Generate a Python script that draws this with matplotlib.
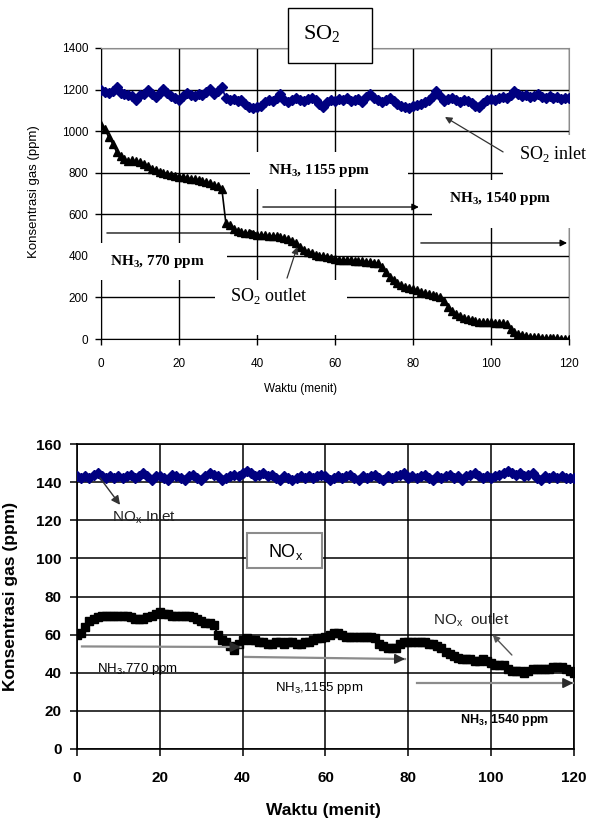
import matplotlib
matplotlib.use('Agg')
import matplotlib.pyplot as plt
from matplotlib.patches import Rectangle

# time axis, one reading per minute
minutes = list(range(0, 121))

so2_inlet = [1200, 1190, 1185, 1195, 1210, 1185, 1180, 1175, 1170, 1150,
             1175, 1180, 1200, 1180, 1165, 1185, 1205, 1185, 1170, 1160,
             1150, 1170, 1185, 1175, 1170, 1180, 1175, 1190, 1205, 1180,
             1195, 1210, 1160, 1150, 1155, 1145, 1150, 1130, 1115, 1110,
             1115, 1120, 1140, 1150, 1145, 1160, 1180, 1150, 1140, 1150,
             1160, 1150, 1145, 1155, 1160, 1150, 1130, 1115, 1140, 1150,
             1145, 1155, 1150, 1160, 1145, 1150, 1155, 1140, 1165, 1180,
             1160, 1150, 1140, 1150, 1160, 1145, 1130, 1120, 1115, 1110,
             1120, 1125, 1130, 1140, 1150, 1170, 1195, 1170, 1145, 1155,
             1160, 1150, 1140, 1150, 1145, 1135, 1120, 1115, 1135, 1150,
             1155, 1150, 1160, 1165, 1160, 1175, 1195, 1180, 1170, 1175,
             1165, 1170, 1180, 1165, 1160, 1170, 1160, 1165, 1155, 1160,
             1160]

so2_outlet = [1030, 1010, 970, 940, 900, 880, 865, 855, 860, 855,
              850, 840, 830, 820, 815, 805, 800, 795, 790, 785,
              780, 780, 775, 770, 770, 765, 760, 755, 750, 740,
              735, 720, 560, 550, 530, 520, 515, 510, 510, 505,
              500, 500, 500, 495, 495, 495, 490, 485, 480, 470,
              460, 445, 430, 420, 415, 405, 400, 400, 395, 390,
              385, 380, 380, 380, 378, 376, 375, 374, 372, 370,
              368, 365, 345, 320, 300, 285, 270, 260, 250, 245,
              240, 235, 228, 220, 215, 210, 205, 200, 185, 155,
              135, 120, 110, 100, 95, 90, 85, 82, 80, 80,
              80, 78, 78, 76, 72, 50, 35, 25, 20, 15,
              12, 10, 8, 6, 5, 5, 4, 3, 2, 1,
              0]

nox_inlet = [143, 142, 143, 142, 144, 145, 143, 142, 143, 142,
             143, 142, 143, 144, 142, 143, 145, 143, 141, 143,
             143, 142, 141, 144, 143, 142, 141, 143, 144, 142,
             141, 143, 145, 144, 143, 141, 142, 143, 144, 143,
             145, 146, 145, 143, 144, 145, 143, 144, 142, 141,
             143, 142, 141, 142, 143, 142, 143, 142, 143, 144,
             143, 141, 142, 143, 142, 143, 144, 142, 141, 143,
             142, 143, 144, 142, 141, 143, 142, 143, 144, 145,
             142, 143, 142, 143, 144, 142, 141, 143, 142, 143,
             144, 142, 143, 141, 143, 144, 145, 143, 142, 143,
             142, 143, 144, 145, 146, 145, 144, 145, 143, 144,
             145, 142, 141, 143, 142, 143, 142, 143, 142, 142,
             142]

nox_outlet = [60, 61, 64, 67, 68, 69, 70, 70, 70, 70,
              70, 70, 70, 69, 68, 68, 68, 69, 70, 71,
              72, 71, 71, 70, 70, 70, 70, 70, 69, 68,
              67, 66, 66, 65, 60, 57, 56, 54, 52, 55,
              57, 58, 57, 57, 56, 56, 55, 55, 56, 56,
              55, 56, 56, 55, 55, 56, 56, 57, 58, 58,
              59, 60, 61, 61, 60, 59, 59, 59, 59, 59,
              59, 59, 58, 55, 54, 53, 53, 53, 55, 56,
              56, 56, 56, 56, 56, 55, 55, 54, 53, 51,
              50, 49, 48, 47, 47, 47, 46, 46, 47, 46,
              45, 44, 44, 44, 42, 41, 41, 41, 40, 41,
              42, 42, 42, 42, 42, 43, 43, 43, 42, 41,
              40]

x_ticks = [0, 20, 40, 60, 80, 100, 120]
so2_ticks = [0, 200, 400, 600, 800, 1000, 1200, 1400]
nox_ticks = [0, 20, 40, 60, 80, 100, 120, 140, 160]

plt.rcParams['font.family'] = ['Liberation Sans', 'DejaVu Sans']
SERIF = ['Liberation Serif', 'DejaVu Serif']
NAVY = '#000080'


def mask(ax, x0, y0, x1, y1):
    # white text box that hides the gridlines behind a label
    ax.add_patch(Rectangle((x0, y0), x1 - x0, y1 - y0, facecolor='white',
                           edgecolor='none', zorder=2.8, clip_on=False))


def arrow(ax, start, end, color='black', lw=0.9, head=10, z=5):
    ax.annotate('', xy=end, xytext=start, zorder=z,
                arrowprops=dict(arrowstyle='-|>', color=color, lw=lw,
                                mutation_scale=head, shrinkA=0, shrinkB=0))


def gray_arrow(ax, start, end):
    ax.plot([start[0], end[0]], [start[1], end[1]], color='#8c8c8c', lw=1.6, zorder=5)
    dx = (end[0] - start[0]) * 0.06
    dy = (end[1] - start[1]) * 0.06
    arrow(ax, (end[0] - dx, end[1] - dy), end, color='#2b2b2b', lw=1.2, head=15, z=6)


fig = plt.figure(figsize=(5.93, 8.19), dpi=100)

# ---------------- SO2 panel ----------------
ax = fig.add_axes([101 / 593, 1 - 339 / 819, 468 / 593, 291 / 819])
ax.plot(minutes, so2_inlet, color=NAVY, marker='D', ms=4.8, lw=1.2, zorder=4)
ax.plot(minutes, so2_outlet, color='black', marker='^', ms=6.3, lw=1.2, zorder=4)
ax.set_xlim(0, 120)
ax.set_ylim(0, 1400)
ax.set_xticks(x_ticks)
ax.set_yticks(so2_ticks)
ax.grid(True, color='black', lw=1)
ax.tick_params(direction='out', length=4, width=1, labelsize=8.5)
ax.tick_params(axis='x', pad=10)
ax.tick_params(axis='y', pad=5)
for s in ['top', 'right']:
    ax.spines[s].set_color('#8c8c8c')
for s in ['left', 'bottom']:
    ax.spines[s].set_color('black')
ax.set_xlabel('Waktu (menit)', fontsize=8.5)
ax.set_ylabel('Konsentrasi gas (ppm)', fontsize=9.5)
ax.xaxis.set_label_coords(0.427, -0.151)
ax.yaxis.set_label_coords(-0.13, 0.505)

mask(ax, 38.2, 722, 78.7, 900)
mask(ax, -1.5, 284, 32.3, 462)
mask(ax, 29.2, 19, 63.1, 284)
mask(ax, 84.9, 533, 121.5, 764)
mask(ax, 103, 765, 126, 981)

ax.text(55.9, 811, 'NH$_\\mathregular{3}$, 1155 ppm', family=SERIF, weight='bold',
        fontsize=11, ha='center', va='center', zorder=5)
ax.text(14.5, 375, 'NH$_\\mathregular{3}$, 770 ppm', family=SERIF, weight='bold',
        fontsize=11, ha='center', va='center', zorder=5)
ax.text(102.3, 674, 'NH$_\\mathregular{3}$, 1540 ppm', family=SERIF, weight='bold',
        fontsize=11, ha='center', va='center', zorder=5)
ax.text(43.1, 205, 'SO$_\\mathregular{2}$ outlet', family=SERIF, fontsize=13,
        ha='center', va='center', zorder=5)
ax.text(115.9, 888, 'SO$_\\mathregular{2}$ inlet', family=SERIF, fontsize=13,
        ha='center', va='center', zorder=5)

arrow(ax, (1.5, 510), (40, 510), z=3)
arrow(ax, (41.5, 635), (81.5, 635))
arrow(ax, (82, 462), (119.5, 462))
arrow(ax, (103.1, 900), (88.2, 1068), color='#333333')
arrow(ax, (47.7, 293), (50.3, 443), color='#333333')

fig.patches.append(Rectangle((288 / 593, 1 - 63 / 819), 84 / 593, 55 / 819,
                             transform=fig.transFigure, facecolor='white',
                             edgecolor='black', lw=1))
fig.text(322 / 593, 1 - 34 / 819, 'SO$_\\mathregular{2}$', family=SERIF,
         fontsize=16, ha='center', va='center')

# ---------------- NOx panel ----------------
ax2 = fig.add_axes([77 / 593, 1 - 749 / 819, 497 / 593, 305 / 819])
ax2.plot(minutes, nox_inlet, color=NAVY, marker='D', ms=4.8, lw=1.2, zorder=4)
ax2.plot(minutes, nox_outlet, color='black', marker='s', ms=6, lw=1.5, zorder=4)
ax2.set_xlim(0, 120)
ax2.set_ylim(0, 160)
ax2.set_xticks(x_ticks)
ax2.set_yticks(nox_ticks)
ax2.grid(True, color='black', lw=1.1)
ax2.tick_params(direction='out', length=5, width=1.1, labelsize=11)
ax2.tick_params(axis='x', pad=11)
ax2.tick_params(axis='y', pad=6)
for lab in ax2.get_xticklabels() + ax2.get_yticklabels():
    lab.set_fontweight('bold')
for s in ax2.spines.values():
    s.set_color('black')
    s.set_linewidth(1.2)
ax2.set_xlabel('Waktu (menit)', fontsize=12.5, weight='bold')
ax2.set_ylabel('Konsentrasi gas (ppm)', fontsize=12.5, weight='bold')
ax2.xaxis.set_label_coords(0.496, -0.177)
ax2.yaxis.set_label_coords(-0.119, 0.5)

ax2.add_patch(Rectangle((41.0, 95.0), 18.2, 18.4, facecolor='white',
                        edgecolor='#8c8c8c', lw=1.5, zorder=3, clip_on=False))
ax2.text(50.3, 103.6, 'NO$_\\mathregular{x}$', fontsize=13, ha='center',
         va='center', zorder=5)

ax2.text(8.45, 121.8, 'NO$_\\mathregular{x}$ Inlet', fontsize=11, color='#222222',
         ha='left', va='center', zorder=5)
ax2.text(86, 67.7, 'NO$_\\mathregular{x}$  outlet', fontsize=11, color='#222222',
         ha='left', va='center', zorder=5)
ax2.text(4.75, 42, 'NH$_\\mathregular{3}$,770 ppm', fontsize=9.5,
         ha='left', va='center', zorder=5)
ax2.text(47.8, 32, 'NH$_\\mathregular{3}$,1155 ppm', fontsize=9.5,
         ha='left', va='center', zorder=5)
ax2.text(92.5, 15.2, 'NH$_\\mathregular{3}$, 1540 ppm', fontsize=9, weight='bold',
         ha='left', va='center', zorder=5)

gray_arrow(ax2, (1.2, 53.8), (39.5, 53.5))
gray_arrow(ax2, (40.6, 48.3), (79.2, 47.2))
gray_arrow(ax2, (82, 34.6), (119.8, 34.6))
arrow(ax2, (5.55, 142.2), (10.4, 128.1), color='#333333', lw=1, head=13)
arrow(ax2, (105, 49.3), (100.4, 59.8), color='#555555', lw=1, head=10)

fig.savefig('out.png', dpi=100)
